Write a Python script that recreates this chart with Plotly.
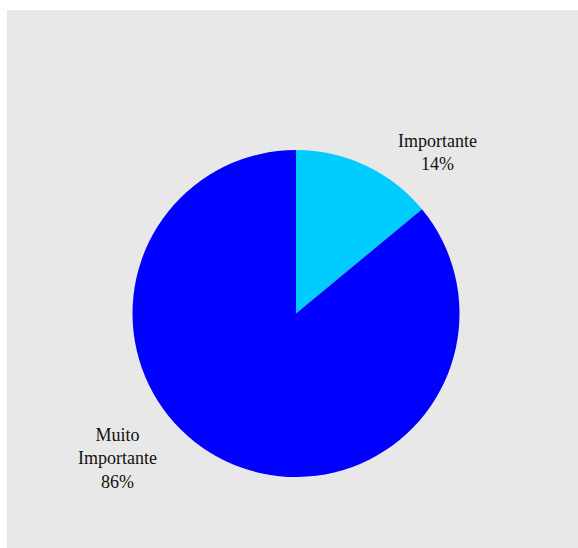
import plotly.graph_objects as go

# Survey answers and their share of responses (percent)
categories = ["Importante", "Muito Importante"]
shares = [14, 86]
label_lines = ["Importante", "Muito<br>Importante"]
slice_colors = ["#00CCFF", "#0000FF"]

W, H = 578, 548
cx, cy, r = 296, 313.5, 163.5

fig = go.Figure(
    go.Pie(
        labels=categories,
        values=shares,
        sort=False,
        direction="clockwise",
        rotation=0,
        textinfo="none",
        textposition="none",
        hoverinfo="label+percent",
        marker=dict(colors=slice_colors, line=dict(width=0)),
        domain=dict(
            x=[(cx - r) / W, (cx + r) / W],
            y=[1 - (cy + r) / H, 1 - (cy - r) / H],
        ),
        showlegend=False,
    )
)

# Grey panel behind the chart
fig.add_shape(
    type="rect", xref="paper", yref="paper",
    x0=7 / W, x1=1.01, y0=-0.01, y1=1 - 10 / H,
    fillcolor="#e8e8e8", line=dict(width=0), layer="below",
)

# Outside labels: category name and percentage
label_pos = [(437, 153), (117, 458)]
for text, share, (px, py) in zip(label_lines, shares, label_pos):
    fig.add_annotation(
        xref="paper", yref="paper",
        x=px / W, y=1 - py / H,
        text=f"{text}<br>{share}%",
        showarrow=False, align="center",
        xanchor="center", yanchor="middle",
        font=dict(family="Liberation Serif", size=18, color="#111111"),
    )

fig.update_layout(
    width=W, height=H,
    margin=dict(l=0, r=0, t=0, b=0),
    paper_bgcolor="white",
    plot_bgcolor="white",
)

fig.write_html("out.html")
